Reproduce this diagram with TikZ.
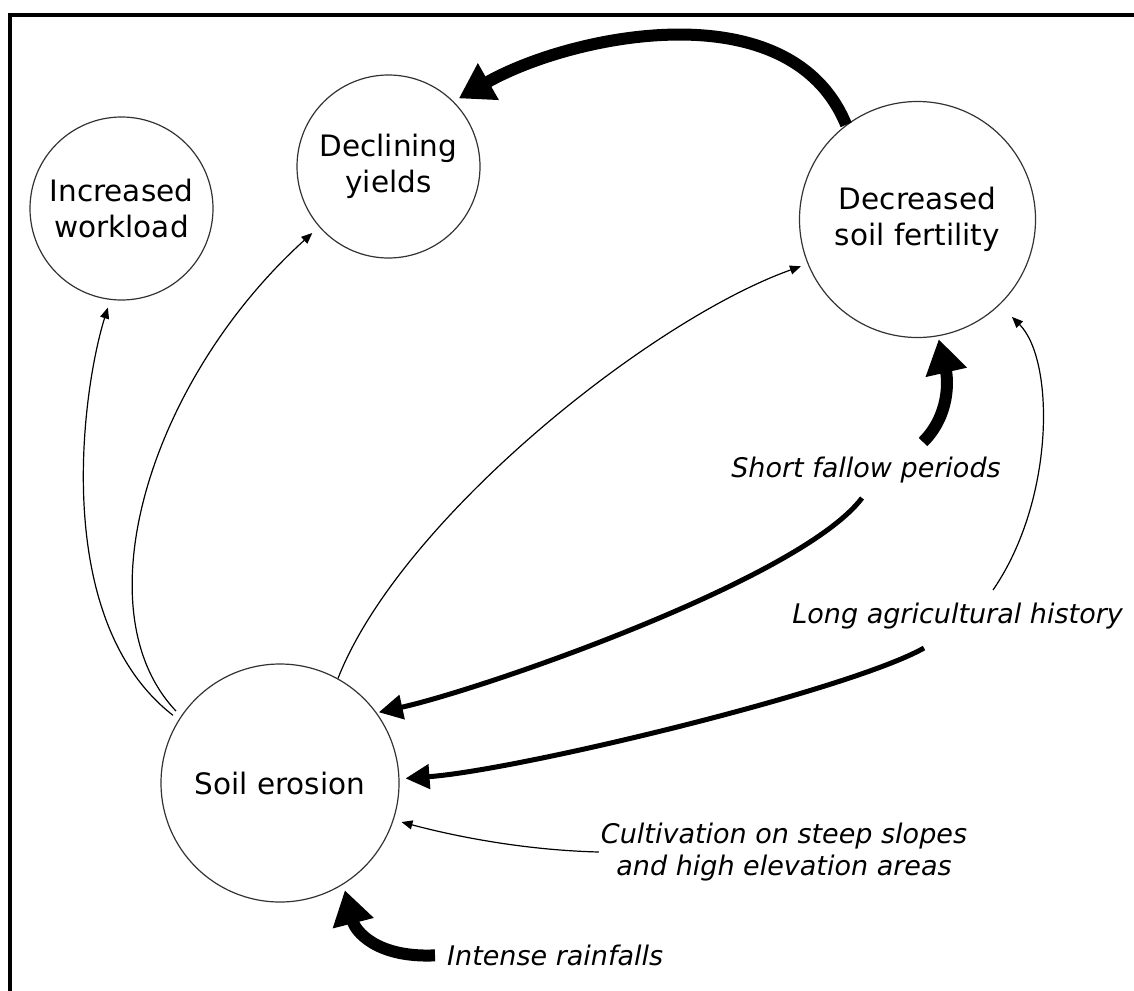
\documentclass[tikz,border=0pt]{standalone}
\usepackage{fontspec}
\setmainfont{DejaVu Sans}
\usepackage{tikz}
\usetikzlibrary{arrows.meta, positioning}

\begin{document}
\begin{tikzpicture}[x=1pt, y=-1pt,
    bubble/.style={draw=black!80, line width=1.2pt, circle, text centered, align=center, inner sep=0pt, font=\fontsize{29.5}{36.5}\selectfont},
    cause/.style={align=center, inner sep=2pt, font=\fontsize{27}{32}\selectfont\itshape},
    weaklink/.style={line width=1.2pt, -{Triangle[length=11pt, width=9pt]}},
    mediumlink/.style={line width=5pt, -{Triangle[length=24pt, width=24pt]}},
    stronglink/.style={line width=12pt, -{Triangle[length=34pt, width=40pt]}}]
    \useasboundingbox (0,0) rectangle (1134,990);
    \draw[line width=3.3pt] (10,1000) -- (10,15) -- (1140,15);

    \node (workload) [bubble, minimum size=183pt] at (121.5,208.5) {Increased\\workload};
    \node (yields) [bubble, minimum size=183pt] at (388.5,166.5) {Declining\\yields};
    \node (fertility) [bubble, minimum size=236pt] at (917.5,219.5) {Decreased\\soil fertility};
    \node (erosion) [bubble, minimum size=238pt] at (280,783) {Soil erosion};

    \node (fallow) [cause, anchor=base] at (866,477) {Short fallow periods};
    \node (history) [cause, anchor=base east] at (1125,623) {Long agricultural history};
    \node (slopes) [cause] at (784,852) {Cultivation on steep slopes\\and high elevation areas};
    \node (rain) [cause, anchor=base west] at (445,965) {Intense rainfalls};

    \coordinate (fallowtop) at (923,442);
    \coordinate (fallowbottom) at (862,498);
    \coordinate (historytop) at (993,590);
    \coordinate (historyleft) at (924,648);

    \draw[stronglink, shorten >=6pt] (fertility.127) .. controls (790,-12) and (570,35) .. (yields.45);
    \draw[weaklink, shorten <=7pt, shorten >=8pt] (erosion.148) .. controls (50,620) and (82,390) .. (workload.263);
    \draw[weaklink, shorten <=7pt, shorten >=9pt] (erosion.146) .. controls (80,610) and (150,380) .. (yields.221);
    \draw[weaklink, shorten >=7pt] (erosion.61) .. controls (400,520) and (650,320) .. (fertility.202);
    \draw[stronglink, shorten >=3pt] (fallowtop) .. controls (950,415) and (948,380) .. (fertility.280);
    \draw[weaklink, shorten >=17pt] (historytop) .. controls (1055,500) and (1055,360) .. (fertility.314);
    \draw[mediumlink, shorten >=2pt] (fallowbottom) .. controls (800,580) and (480,690) .. (erosion.36);
    \draw[mediumlink, shorten >=6pt] (historyleft) .. controls (850,690) and (520,770) .. (erosion.2);
    \draw[weaklink, shorten >=8pt] (slopes.west) .. controls (520,850) and (450,835) .. (erosion.342);
    \draw[stronglink, shorten <=10pt, shorten >=6pt] (rain.west) .. controls (375,958) and (355,930) .. (erosion.302);
\end{tikzpicture}
\end{document}
